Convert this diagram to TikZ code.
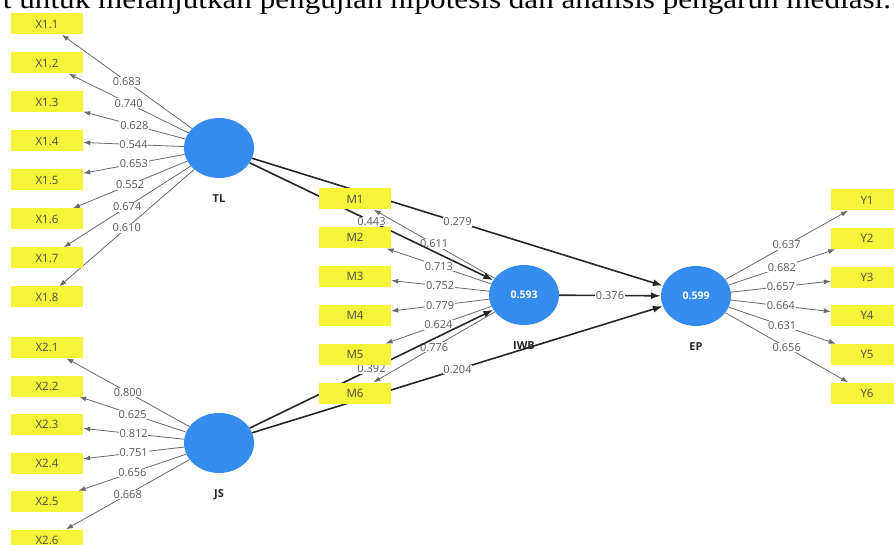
\documentclass[tikz,border=0pt]{standalone}
\usepackage{fontspec}
\setmainfont{Liberation Serif}
\newfontfamily\plsfont{Open Sans}
\usetikzlibrary{arrows.meta, positioning, shapes.geometric}

\definecolor{plsyellow}{RGB}{246,244,56}
\definecolor{plsblue}{RGB}{52,140,238}
\definecolor{loadgray}{RGB}{105,105,105}

\pgfdeclarelayer{bg}
\pgfsetlayers{bg,main}

\begin{document}
\begin{tikzpicture}[
  x=1pt, y=-1pt,
  ind/.style = {fill=plsyellow, minimum width=72pt, minimum height=21pt, inner sep=0pt,
                text=black!70, font=\plsfont\fontsize{11.5}{12}\selectfont},
  lv/.style = {ellipse, fill=plsblue, minimum width=70pt, minimum height=60pt, inner sep=0pt,
               text=white, font=\plsfont\bfseries\fontsize{10.5}{11}\selectfont},
  lvname/.style = {inner sep=0pt, text=black!85, font=\plsfont\bfseries\fontsize{11}{11}\selectfont},
  load/.style = {draw=loadgray, line width=0.8pt, -{Latex[length=7pt,width=5pt]}},
  path/.style = {draw=black!85, line width=1.6pt, -{Latex[length=10pt,width=7pt]}},
  coef/.style = {fill=white, inner sep=0.8pt, text=black!65, font=\plsfont\fontsize{11}{11}\selectfont}
]

  \useasboundingbox (0,0) rectangle (894,545);

  % text line cut off above the figure
  \node[anchor=base west, xscale=1.12, transform shape, font=\fontsize{27.8}{28}\selectfont]
    (caption) at (-1,9) {t untuk melanjutkan pengujian hipotesis dan analisis pengaruh mediasi.};

  % latent variables
  \node[lv] (TL) at (219,148) {};
  \node[lv] (JS) at (219,443) {};
  \node[lv] (IWB) at (524,295) {0.593};
  \node[lv] (EP) at (696,296) {0.599};

  \node[lvname, below=16pt of TL] (TLname) {TL};
  \node[lvname, below=16pt of JS] (JSname) {JS};
  \node[lvname, below=16pt of IWB] (IWBname) {IWB};
  \node[lvname, below=16pt of EP] (EPname) {EP};

  % indicators
  \foreach \i in {1,...,8}
    \node[ind] (x1-\i) at (47,{24+39*(\i-1)}) {X1.\i};
  \foreach \i in {1,...,6}
    \node[ind] (x2-\i) at (47,{347.5+38.5*(\i-1)}) {X2.\i};
  \foreach \i in {1,...,6}
    \node[ind] (m-\i) at (355,{199+38.8*(\i-1)}) {M\i};
  \foreach \i in {1,...,6}
    \node[ind] (y-\i) at (867,{200+38.6*(\i-1)}) {Y\i};

  \begin{pgfonlayer}{bg}
    % outer loadings
    \foreach \ld [count=\i] in {0.683,0.740,0.628,0.544,0.653,0.552,0.674,0.610}
      \draw[load] (TL) -- node[coef] {\ld} (x1-\i);
    \foreach \ld [count=\i] in {0.800,0.625,0.812,0.751,0.656,0.668}
      \draw[load] (JS) -- node[coef] {\ld} (x2-\i);
    \foreach \ld [count=\i] in {0.611,0.713,0.752,0.779,0.624,0.776}
      \draw[load] (IWB) -- node[coef] {\ld} (m-\i);
    \foreach \ld [count=\i] in {0.637,0.682,0.657,0.664,0.631,0.656}
      \draw[load] (EP) -- node[coef] {\ld} (y-\i);

    % path coefficients
    \draw[path] (TL) -- node[coef] {0.443} (IWB);
    \draw[path] (TL) -- node[coef] {0.279} (EP);
    \draw[path] (JS) -- node[coef] {0.392} (IWB);
    \draw[path] (JS) -- node[coef] {0.204} (EP);
    \draw[path] (IWB) -- node[coef] {0.376} (EP);
  \end{pgfonlayer}

\end{tikzpicture}
\end{document}
